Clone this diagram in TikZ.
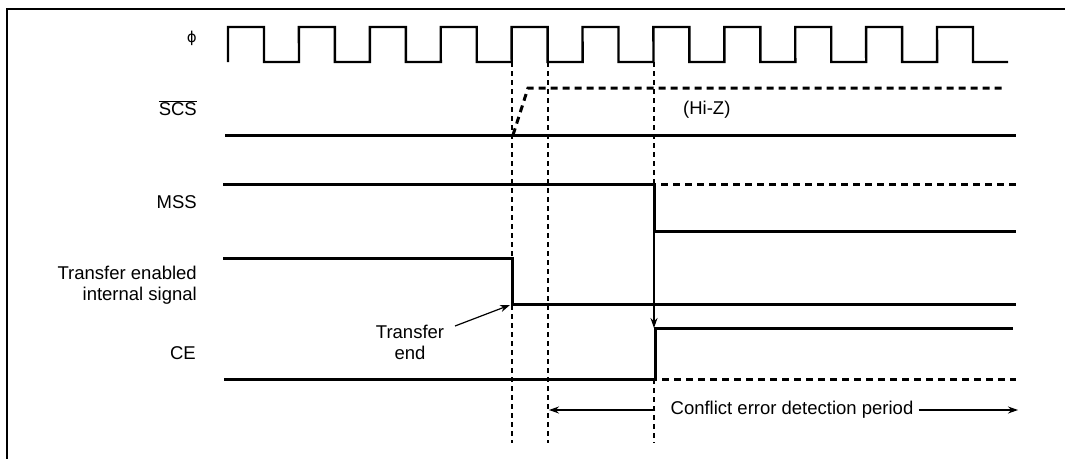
\documentclass[tikz,border=0pt]{standalone}
\usepackage{fontspec}
\setmainfont{Liberation Sans}
\newfontfamily\dejavu{DejaVu Sans}
\usetikzlibrary{arrows.meta}
\begin{document}
\begin{tikzpicture}[x=1pt,y=-1pt,
  sig/.style={line width=3pt, line join=miter},
  clk/.style={line width=2.4pt, line join=miter},
  hiz/.style={line width=3pt, dash pattern=on 7pt off 5pt},
  guide/.style={line width=1.4pt, dash pattern=on 5pt off 4pt},
  lbl/.style={font=\fontsize{18.5}{21}\selectfont, inner sep=0pt},
  ann/.style={line width=1.2pt, -{Stealth[length=10pt,width=7pt]}}]
\useasboundingbox (0,0) rectangle (1065,458);
% frame
\draw[line width=2.8pt] (7,470) -- (7,9) -- (1075,9);
% clock
\draw[clk] (228,62) \foreach \k in {0,...,10}{ -- ({228+70.9*\k},27) -- ({264+70.9*\k},27) -- ({264+70.9*\k},62) -- ({299+70.9*\k},62)};
% guides
\draw[guide] (512,62) -- (512,443);
\draw[guide] (548,62) -- (548,443);
\draw[guide] (654,62) -- (654,184);
\draw[guide] (654,379) -- (654,443);
% SCS
\draw[sig] (225,135) -- (1016,135);
\draw[hiz] (513,135) -- (528,88) -- (1005,88);
\node[lbl, anchor=west] (hiz) at (683,110) {(Hi-Z)};
% MSS
\draw[sig] (223,184) -- (654,184) -- (654,231) -- (1016,231);
\draw[hiz] (661,184) -- (1016,184);
% transfer enabled
\draw[sig] (223,258) -- (512,258) -- (512,304) -- (1016,304);
% CE
\draw[sig] (224,379) -- (655,379) -- (655,328) -- (1013,328);
\draw[hiz] (662,379) -- (1016,379);
\coordinate (mssdrop) at (654,231);
\coordinate (cerise) at (654,328);
\draw[ann] (mssdrop) -- (cerise);
% labels
\node[lbl, anchor=east] (phi) at (197,38) {\dejavu\fontsize{15}{17}\selectfont ϕ};
\node[lbl, anchor=east] (scs) at (197,108) {$\overline{\mbox{SCS}}$};
\node[lbl, anchor=east] (mss) at (197,202) {MSS};
\node[lbl, anchor=east, align=right] (te) at (197,285) {Transfer enabled\\internal signal};
\node[lbl, anchor=east] (ce) at (196,353) {CE};
% transfer end
\node[lbl, align=center, font=\fontsize{18.5}{21}\selectfont] (tend) at (410,342) {Transfer\\end};
\coordinate (tefall) at (510,305);
\draw[ann] (455,326) -- (tefall);
% period
\node[lbl] (ptxt) at (792,410) {Conflict error detection period};
\coordinate (pl) at (549,410);
\coordinate (pr) at (1018,410);
\draw[ann] ([xshift=-15pt]ptxt.west) -- (pl);
\draw[ann] ([xshift=5pt]ptxt.east) -- (pr);
\end{tikzpicture}
\end{document}
